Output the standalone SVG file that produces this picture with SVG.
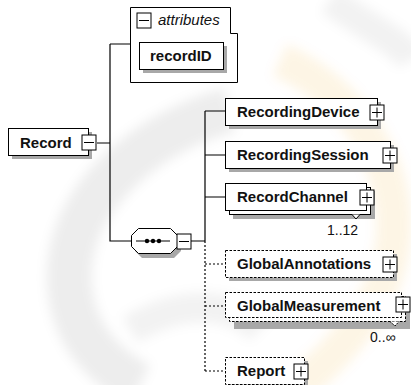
<svg xmlns="http://www.w3.org/2000/svg" width="411" height="385" viewBox="0 0 411 385">
<style>
.box{fill:#fff;stroke:#000;stroke-width:1}
.dbox{fill:#fff;stroke:#000;stroke-width:1;stroke-dasharray:2.5,1.5}
.sh{fill:#a8a8a8}
.t{font-family:"Liberation Sans",Arial,sans-serif;font-weight:bold;font-size:15px;fill:#111}
.it{font-family:"Liberation Sans",Arial,sans-serif;font-style:italic;font-size:15px;fill:#111}
.m{font-family:"Liberation Sans",Arial,sans-serif;font-size:14px;fill:#111}
.ln{stroke:#000;stroke-width:1.2;fill:none}
.dl{stroke:#000;stroke-width:1.2;fill:none;stroke-dasharray:2,2}
.pm{fill:#fff;stroke:#000;stroke-width:1}
</style>
<defs>
<g id="plus"><rect class="pm" x="0" y="0" width="14" height="15"/><path d="M2 7.5H12M7 2.5V12.5" stroke="#000" stroke-width="1"/></g>
<g id="minus"><rect class="pm" x="0" y="0" width="14" height="15"/><path d="M2 7.5H12" stroke="#000" stroke-width="1"/></g>
<filter id="soft" x="-20%" y="-20%" width="140%" height="140%"><feGaussianBlur stdDeviation="6"/></filter>
</defs>
<rect width="411" height="385" fill="#fff"/>
<g id="watermark" filter="url(#soft)">
<path d="M230 110 C 150 130, 60 200, 70 290 C 75 340, 110 370, 140 385" stroke="#000" stroke-opacity="0.07" stroke-width="45" fill="none"/>
<path d="M130 330 C 180 300, 230 300, 260 330" stroke="#000" stroke-opacity="0.05" stroke-width="30" fill="none"/>
<path d="M280 60 C 370 100, 420 200, 380 290 C 360 330, 330 360, 300 385" stroke="#f0a020" stroke-opacity="0.10" stroke-width="35" fill="none"/>
<path d="M330 0 C 370 30, 400 40, 411 60" stroke="#000" stroke-opacity="0.05" stroke-width="30" fill="none"/>
</g>
<g id="connectors">
<path class="ln" d="M97 143H110M110 44H130M110 44V241H131M191 241H205M205 111V241M205 111H225M205 155H225M205 197H225"/>
<path class="dl" d="M205 241V371M205 264H225M205 306H225M205 371H225"/>
</g>
<g id="attributes">
<path class="box" d="M130.5 7.5H230.5V33.5H237.5V82.5H130.5Z"/>
<use href="#minus" x="137" y="13"/>
<text class="it" x="158" y="25">attributes</text>
</g>
<g id="recordID">
<rect class="sh" x="143" y="46" width="84" height="27"/>
<rect class="box" x="139.5" y="42.5" width="84" height="27"/>
<text class="t" x="150" y="61">recordID</text>
</g>
<g id="Record">
<rect class="sh" x="12" y="132" width="80" height="27"/>
<rect class="box" x="8.5" y="128.5" width="80" height="27"/>
<text class="t" x="20" y="147.5">Record</text>
<use href="#minus" x="82" y="135"/>
</g>
<g id="sequence">
<path class="sh" d="M142 233H174L181 240V251L174 258H142L135 251V240Z"/>
<path class="box" d="M138.5 228.5H170.5L177.5 235.5V246.5L170.5 253.5H138.5L131.5 246.5V235.5Z"/>
<path d="M136 241H170" stroke="#000" stroke-width="1.2"/>
<circle cx="147" cy="241" r="2.2"/><circle cx="153" cy="241" r="2.2"/><circle cx="159" cy="241" r="2.2"/>
<use href="#minus" x="177" y="234"/>
</g>
<g id="RecordingDevice">
<rect class="sh" x="229" y="102" width="152" height="27"/>
<rect class="box" x="225.5" y="98.5" width="152" height="27"/>
<text class="t" x="237" y="117">RecordingDevice</text>
<use href="#plus" x="370" y="105"/>
</g>
<g id="RecordingSession">
<rect class="sh" x="229" y="145" width="165" height="27"/>
<rect class="box" x="225.5" y="141.5" width="165" height="27"/>
<text class="t" x="237" y="160">RecordingSession</text>
<use href="#plus" x="383" y="148"/>
</g>
<g id="RecordChannel">
<rect class="sh" x="233" y="191" width="142" height="28"/>
<rect class="box" x="229.5" y="187.5" width="141" height="27"/>
<rect class="box" x="225.5" y="183.5" width="141" height="27"/>
<text class="t" x="237" y="202">RecordChannel</text>
<use href="#plus" x="360" y="190"/>
<path d="M352 214.5L356 219L360 214.5" fill="#fff" stroke="#000" stroke-width="1"/>
<text class="m" x="327" y="235">1..12</text>
</g>
<g id="GlobalAnnotations">
<rect class="sh" x="229" y="254" width="168" height="27"/>
<rect class="dbox" x="225.5" y="250.5" width="168" height="27"/>
<text class="t" x="237" y="269">GlobalAnnotations</text>
<use href="#plus" x="383" y="257"/>
</g>
<g id="GlobalMeasurement">
<rect class="sh" x="234" y="301" width="176" height="28"/>
<rect class="dbox" x="229.5" y="296.5" width="176" height="25"/>
<rect class="dbox" x="225.5" y="292.5" width="176" height="25"/>
<text class="t" x="237" y="311">GlobalMeasurement</text>
<use href="#plus" x="396" y="297"/>
<path d="M390 321.5L395 326L399 321.5" fill="#fff" stroke="#000" stroke-width="1" stroke-dasharray="2,1"/>
<text class="m" x="370" y="342">0..∞</text>
</g>
<g id="Report">
<rect class="sh" x="229" y="361" width="79" height="27"/>
<rect class="dbox" x="225.5" y="357.5" width="79" height="27"/>
<text class="t" x="237" y="376">Report</text>
<use href="#plus" x="294" y="364"/>
</g>
</svg>
